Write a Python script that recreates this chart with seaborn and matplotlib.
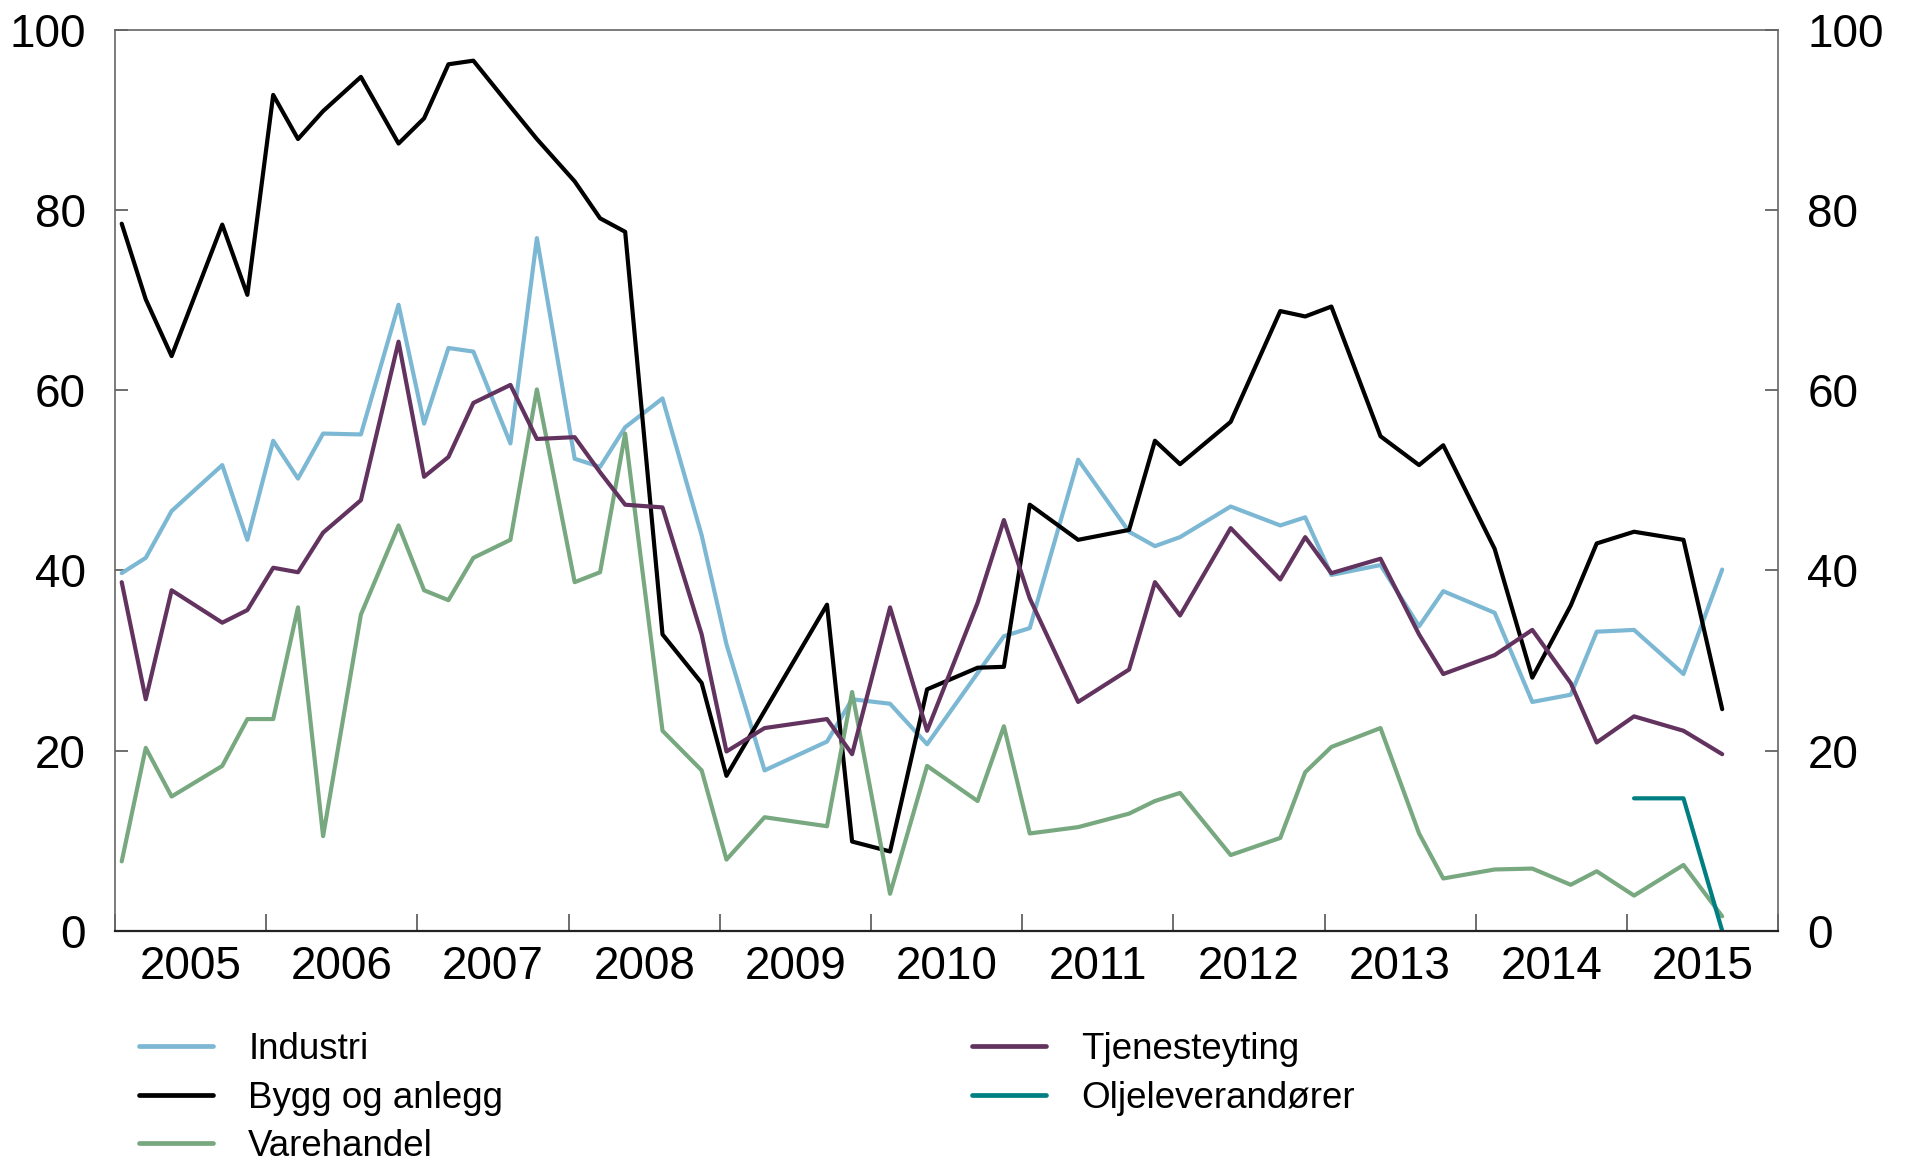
import matplotlib
matplotlib.use('Agg')
import matplotlib.pyplot as plt
from matplotlib.lines import Line2D
import numpy as np
import pandas as pd
import seaborn as sns


# survey rounds, as fractional years
dates = [2005.044, 2005.203, 2005.374, 2005.709, 2005.875,
         2006.046, 2006.210, 2006.376, 2006.626, 2006.875,
         2007.044, 2007.205, 2007.370, 2007.615, 2007.790,
         2008.040, 2008.208, 2008.374, 2008.621, 2008.880,
         2009.044, 2009.296, 2009.709, 2009.875,
         2010.126, 2010.371, 2010.705, 2010.879,
         2011.050, 2011.370, 2011.707, 2011.878,
         2012.044, 2012.379, 2012.707, 2012.872,
         2013.045, 2013.370, 2013.625, 2013.785,
         2014.125, 2014.374, 2014.628, 2014.800,
         2015.047, 2015.374, 2015.630]

industri = [39.7, 41.4, 46.6, 51.7, 43.4,
            54.4, 50.2, 55.2, 55.1, 69.5,
            56.3, 64.7, 64.3, 54.1, 76.9,
            52.4, 51.5, 55.9, 59.1, 43.9,
            31.8, 17.8, 21.0, 25.7,
            25.2, 20.7, 28.6, 32.7,
            33.6, 52.3, 44.3, 42.7,
            43.7, 47.1, 45.0, 45.9,
            39.5, 40.6, 33.8, 37.7,
            35.3, 25.4, 26.2, 33.2,
            33.4, 28.5, 40.1]

bygg = [78.5, 70.1, 63.8, 78.4, 70.6,
        92.8, 87.9, 91.0, 94.8, 87.4,
        90.2, 96.2, 96.6, 91.5, 87.9,
        83.2, 79.1, 77.6, 32.9, 27.5,
        17.2, 24.4, 36.2, 9.9,
        8.8, 26.8, 29.2, 29.3,
        47.3, 43.4, 44.5, 54.4,
        51.8, 56.5, 68.8, 68.2,
        69.3, 54.9, 51.7, 53.9,
        42.4, 28.1, 36.1, 43.0,
        44.3, 43.4, 24.6]

varehandel = [7.7, 20.3, 14.9, 18.3, 23.5,
              23.5, 35.9, 10.5, 35.1, 45.0,
              37.8, 36.7, 41.4, 43.4, 60.1,
              38.7, 39.8, 55.2, 22.2, 17.8,
              7.9, 12.6, 11.6, 26.5,
              4.1, 18.3, 14.4, 22.7,
              10.8, 11.5, 13.0, 14.4,
              15.3, 8.4, 10.3, 17.6,
              20.4, 22.5, 10.8, 5.8,
              6.8, 6.9, 5.1, 6.6,
              3.9, 7.3, 1.6]

tjenesteyting = [38.7, 25.7, 37.8, 34.2, 35.6,
                 40.3, 39.8, 44.2, 47.8, 65.4,
                 50.4, 52.6, 58.6, 60.6, 54.6,
                 54.8, 50.9, 47.3, 47.0, 32.9,
                 19.9, 22.5, 23.5, 19.6,
                 35.9, 22.2, 36.4, 45.6,
                 36.9, 25.4, 29.0, 38.7,
                 35.0, 44.7, 39.0, 43.7,
                 39.7, 41.3, 32.9, 28.5,
                 30.6, 33.4, 27.5, 20.9,
                 23.8, 22.2, 19.6]

# only the last three rounds
olje = [np.nan] * 44 + [14.7, 14.7, 0.0]

series_names = ['Industri', 'Bygg og anlegg', 'Varehandel', 'Tjenesteyting', 'Oljeleverandører']
colors = ['#7cb8d3', '#000000', '#78a87f', '#63335f', '#007f82']
year_labels = [str(y) for y in range(2005, 2016)]
yticks = [0, 20, 40, 60, 80, 100]


sns.set_style('white')
plt.rcParams['font.family'] = ['Liberation Sans', 'DejaVu Sans']
plt.rcParams['text.color'] = 'black'
plt.rcParams['xtick.color'] = 'black'
plt.rcParams['ytick.color'] = 'black'

df = pd.DataFrame({'dato': dates,
                   'Industri': industri,
                   'Bygg og anlegg': bygg,
                   'Varehandel': varehandel,
                   'Tjenesteyting': tjenesteyting,
                   'Oljeleverandører': olje})
long_df = df.melt(id_vars='dato', var_name='serie', value_name='verdi').dropna()

fig = plt.figure(figsize=(19.05, 11.65), dpi=100)
ax = fig.add_axes([0.0604, 0.2011, 0.8730, 0.7731])

sns.lineplot(data=long_df, x='dato', y='verdi', hue='serie', hue_order=series_names,
             palette=dict(zip(series_names, colors)), estimator=None, sort=False,
             linewidth=3.0, legend=False, ax=ax)

ax.set_xlim(2005, 2016)
ax.set_ylim(0, 100)
ax.set_xlabel('')
ax.set_ylabel('')

# year boundaries as tick marks, labels centred in each year
ax.set_xticks(range(2005, 2017))
ax.set_xticklabels([])
ax.set_xticks([y + 0.5 for y in range(2005, 2016)], minor=True)
ax.set_xticklabels(year_labels, minor=True)
ax.tick_params(axis='x', which='major', direction='in', length=12, width=1.2,
               color='#555555', bottom=True, top=False)
ax.tick_params(axis='x', which='minor', length=0, pad=10, labelsize=33,
               labelcolor='black')

ax.set_yticks(yticks)
ax.tick_params(axis='y', direction='in', length=9.5, width=1.2, color='#555555',
               left=True, right=True, labelleft=True, labelright=True,
               labelsize=33, pad=21, labelcolor='black')

for side in ['left', 'right', 'top']:
    ax.spines[side].set_color('#666666')
    ax.spines[side].set_linewidth(1.2)
ax.spines['bottom'].set_color('#222222')
ax.spines['bottom'].set_linewidth(1.6)

handles = [Line2D([], [], color=c, linewidth=3.4) for c in colors]
leg_style = dict(loc='upper left', frameon=False, fontsize=26.5, handlelength=2.0,
                 handletextpad=0.97, labelspacing=0.37, borderpad=0, borderaxespad=0)
leg1 = fig.legend(handles[:3], series_names[:3],
                  bbox_to_anchor=(139 / 1905, 1 - 1032 / 1165), **leg_style)
leg2 = fig.legend(handles[3:], series_names[3:],
                  bbox_to_anchor=(972 / 1905, 1 - 1032 / 1165), **leg_style)
for leg in (leg1, leg2):
    for t in leg.get_texts():
        t.set_color('black')

fig.savefig('out.png', dpi=100)
